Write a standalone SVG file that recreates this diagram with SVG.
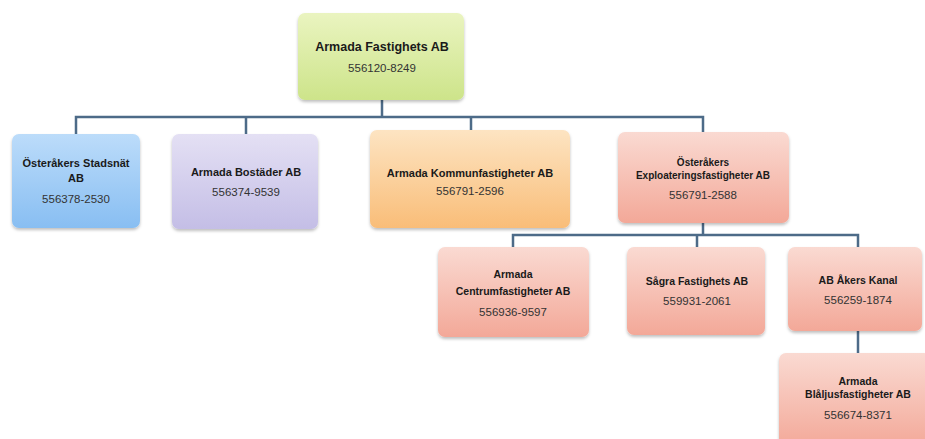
<svg xmlns="http://www.w3.org/2000/svg" width="925" height="439" viewBox="0 0 925 439">
<style>
.box{stroke:none;filter:url(#sh)}
.t{font-family:"Liberation Sans",Arial,sans-serif;font-weight:bold;fill:#1a1a1a;text-anchor:middle}
.n{font-family:"Liberation Sans",Arial,sans-serif;font-size:11.5px;fill:#333;text-anchor:middle}
.c{fill:none;stroke:#4d6b88;stroke-width:2.5}
</style>
<defs>
<filter id="sh" x="-10%" y="-10%" width="120%" height="130%">
<feDropShadow dx="0" dy="2" stdDeviation="1.5" flood-color="#000" flood-opacity="0.25"/>
</filter>
<linearGradient id="gGreen" x1="0" y1="0" x2="0" y2="1"><stop offset="0" stop-color="#eaf4c0"/><stop offset="1" stop-color="#cde48a"/></linearGradient>
<linearGradient id="gBlue" x1="0" y1="0" x2="0" y2="1"><stop offset="0" stop-color="#bcdcfa"/><stop offset="1" stop-color="#88bef2"/></linearGradient>
<linearGradient id="gPurple" x1="0" y1="0" x2="0" y2="1"><stop offset="0" stop-color="#e4e0f4"/><stop offset="1" stop-color="#c4bee6"/></linearGradient>
<linearGradient id="gOrange" x1="0" y1="0" x2="0" y2="1"><stop offset="0" stop-color="#fde4c2"/><stop offset="1" stop-color="#f9bd78"/></linearGradient>
<linearGradient id="gPink" x1="0" y1="0" x2="0" y2="1"><stop offset="0" stop-color="#fadad2"/><stop offset="1" stop-color="#f3a898"/></linearGradient>
</defs>
<rect width="925" height="439" fill="#fff"/>
<g id="connectors">
<path class="c" d="M382 100V117M76 134V117H703V132M246 117V134M471 117V130"/>
<path class="c" d="M703 223V235M513 247V235H858V247M697 235V247"/>
<path class="c" d="M858 331V353"/>
</g>
<g id="n-root">
<rect class="box" x="298" y="13" width="166" height="87" rx="7" fill="url(#gGreen)"/>
<text class="t" x="382" y="51" font-size="12.5">Armada Fastighets AB</text>
<text class="n" x="382" y="72">556120-8249</text>
</g>
<g id="n-stadsnat">
<rect class="box" x="12" y="134" width="128" height="94" rx="7" fill="url(#gBlue)"/>
<text class="t" x="76" y="167" font-size="11">Österåkers Stadsnät</text>
<text class="t" x="76" y="182" font-size="11">AB</text>
<text class="n" x="76" y="203">556378-2530</text>
</g>
<g id="n-bostader">
<rect class="box" x="172" y="134" width="146" height="95" rx="7" fill="url(#gPurple)"/>
<text class="t" x="246" y="176" font-size="11">Armada Bostäder AB</text>
<text class="n" x="246" y="196">556374-9539</text>
</g>
<g id="n-kommun">
<rect class="box" x="370" y="130" width="200" height="98" rx="7" fill="url(#gOrange)"/>
<text class="t" x="470" y="177" font-size="11">Armada Kommunfastigheter AB</text>
<text class="n" x="470" y="195">556791-2596</text>
</g>
<g id="n-exploatering">
<rect class="box" x="618" y="132" width="171" height="91" rx="7" fill="url(#gPink)"/>
<text class="t" x="703" y="166" font-size="10">Österåkers</text>
<text class="t" x="703" y="179" font-size="10">Exploateringsfastigheter AB</text>
<text class="n" x="703" y="199">556791-2588</text>
</g>
<g id="n-centrum">
<rect class="box" x="438" y="247" width="151" height="90" rx="7" fill="url(#gPink)"/>
<text class="t" x="513" y="278" font-size="10.5">Armada</text>
<text class="t" x="513" y="295" font-size="10.5">Centrumfastigheter AB</text>
<text class="n" x="513" y="316">556936-9597</text>
</g>
<g id="n-sagra">
<rect class="box" x="627" y="247" width="138" height="88" rx="7" fill="url(#gPink)"/>
<text class="t" x="697" y="285" font-size="10.5">Sågra Fastighets AB</text>
<text class="n" x="697" y="305">559931-2061</text>
</g>
<g id="n-kanal">
<rect class="box" x="788" y="247" width="134" height="84" rx="7" fill="url(#gPink)"/>
<text class="t" x="858" y="284" font-size="10.5">AB Åkers Kanal</text>
<text class="n" x="858" y="304">556259-1874</text>
</g>
<g id="n-blaljus">
<rect class="box" x="779" y="353" width="152" height="95" rx="7" fill="url(#gPink)"/>
<text class="t" x="858" y="385" font-size="10.5">Armada</text>
<text class="t" x="858" y="398" font-size="10.5">Blåljusfastigheter AB</text>
<text class="n" x="858" y="419">556674-8371</text>
</g>
</svg>
